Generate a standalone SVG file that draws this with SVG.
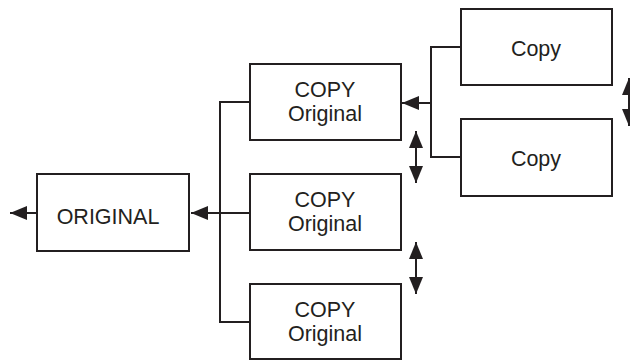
<svg xmlns="http://www.w3.org/2000/svg" width="630" height="360" viewBox="0 0 630 360">
<style>
.box{fill:#fff;stroke:#231f20;stroke-width:2}
.ln{fill:none;stroke:#231f20;stroke-width:2}
.t{font-family:"Liberation Sans",Arial,sans-serif;font-size:21.5px;fill:#231f20;text-anchor:middle}
</style>
<defs>
<marker id="ah" markerUnits="userSpaceOnUse" markerWidth="18" markerHeight="14" refX="17" refY="7" orient="auto-start-reverse">
<path d="M0,0 L17,7 L0,14 Z" fill="#231f20"/>
</marker>
</defs>
<g id="connectors">
<line class="ln" x1="37" y1="213" x2="10" y2="213" marker-end="url(#ah)"/>
<path class="ln" d="M250,102 H220 V322 H250"/>
<line class="ln" x1="250" y1="213" x2="220" y2="213"/>
<line class="ln" x1="220" y1="213" x2="191" y2="213" marker-end="url(#ah)"/>
<path class="ln" d="M461,47 H431 V157 H461"/>
<line class="ln" x1="431" y1="103" x2="402" y2="103" marker-end="url(#ah)"/>
<line class="ln" x1="416" y1="131" x2="416" y2="183" marker-start="url(#ah)" marker-end="url(#ah)"/>
<line class="ln" x1="416" y1="242" x2="416" y2="294" marker-start="url(#ah)" marker-end="url(#ah)"/>
<line class="ln" x1="629" y1="78" x2="629" y2="126" marker-start="url(#ah)" marker-end="url(#ah)"/>
</g>
<g id="original">
<rect class="box" x="37" y="174" width="152" height="77"/>
<text class="t" x="108" y="224">ORIGINAL</text>
</g>
<g id="copy1">
<rect class="box" x="250" y="64" width="151" height="76"/>
<text class="t" x="325" y="97">COPY</text>
<text class="t" x="325" y="121">Original</text>
</g>
<g id="copy2">
<rect class="box" x="250" y="174" width="151" height="76"/>
<text class="t" x="325" y="207">COPY</text>
<text class="t" x="325" y="231">Original</text>
</g>
<g id="copy3">
<rect class="box" x="250" y="284" width="151" height="75"/>
<text class="t" x="325" y="317">COPY</text>
<text class="t" x="325" y="341">Original</text>
</g>
<g id="copyA">
<rect class="box" x="461" y="9" width="151" height="76"/>
<text class="t" x="536" y="56">Copy</text>
</g>
<g id="copyB">
<rect class="box" x="461" y="119" width="151" height="77"/>
<text class="t" x="536" y="166">Copy</text>
</g>
</svg>
